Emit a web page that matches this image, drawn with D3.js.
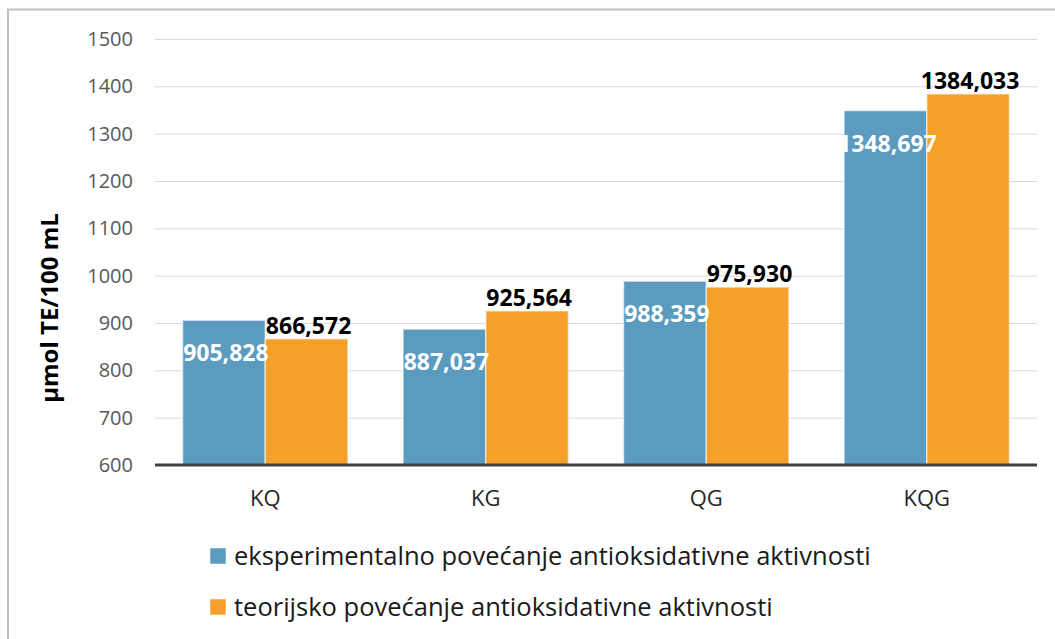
<!DOCTYPE html>
<html lang="en">
<head>
<meta charset="utf-8">
<title>Antioksidativna aktivnost</title>
<style>
  body { margin: 0; background: #fff; }
  svg { display: block; font-family: 'Open Sans', sans-serif; }
  .grid line { stroke: #d9d9d9; stroke-width: 1; }
  .tick-label { fill: #595959; font-size: 20px; }
  .cat-label { fill: #262626; font-size: 22px; }
  .val { font-weight: bold; font-size: 23px; }
</style>
</head>
<body>
<svg width="1055" height="639"></svg>
<script src="https://cdn.jsdelivr.net/npm/d3@7"></script>
<script>
// data
var categories = ["KQ", "KG", "QG", "KQG"];
var experimental = [905.828, 887.037, 988.359, 1348.697];
var theoretical = [866.572, 925.564, 975.930, 1384.033];
var yTicks = [600, 700, 800, 900, 1000, 1100, 1200, 1300, 1400, 1500];
var seriesNames = ["eksperimentalno povećanje antioksidativne aktivnosti",
                   "teorijsko povećanje antioksidativne aktivnosti"];
var colors = ["#5b9bc0", "#f5a02a"];

var svg = d3.select("svg");

// outer frame (runs off the right and bottom of the picture)
svg.append("rect")
    .attr("x", 8).attr("y", 9.5)
    .attr("width", 1200).attr("height", 800)
    .attr("fill", "none")
    .attr("stroke", "#bfbfbf")
    .attr("stroke-width", 2);

var left = 155, right = 1037;
var y = d3.scaleLinear().domain([600, 1500]).range([465, 39]);
var x0 = d3.scaleBand().domain(categories).range([left, right])
    .paddingInner(0.25).paddingOuter(0.125);
var x1 = d3.scaleBand().domain([0, 1]).range([0, x0.bandwidth()]);

var fmt = d3.formatLocale({decimal: ",", thousands: "", grouping: [3], currency: ["", ""]}).format(".3f");

// gridlines
svg.append("g").attr("class", "grid")
  .selectAll("line")
  .data(yTicks.filter(function(d) { return d > 600; }))
  .enter().append("line")
    .attr("x1", left).attr("x2", right)
    .attr("y1", function(d) { return y(d) + 0.5; })
    .attr("y2", function(d) { return y(d) + 0.5; });

svg.append("g")
  .selectAll("text")
  .data(yTicks)
  .enter().append("text")
    .attr("class", "tick-label")
    .attr("x", 133)
    .attr("y", function(d) { return y(d); })
    .attr("dy", "0.35em")
    .attr("text-anchor", "end")
    .text(function(d) { return d; });

var rows = categories.map(function(c, i) {
  return {cat: c, vals: [experimental[i], theoretical[i]]};
});

var groups = svg.append("g").selectAll("g")
  .data(rows)
  .enter().append("g")
    .attr("transform", function(d) { return "translate(" + x0(d.cat) + ",0)"; });

groups.selectAll("rect")
  .data(function(d) { return d.vals.map(function(v, k) { return {k: k, v: v}; }); })
  .enter().append("rect")
    .attr("x", function(d) { return x1(d.k); })
    .attr("y", function(d) { return y(d.v); })
    .attr("width", x1.bandwidth())
    .attr("height", function(d) { return y(600) - y(d.v); })
    .attr("fill", function(d) { return colors[d.k]; })
    .attr("stroke", "rgba(255,255,255,0.55)")
    .attr("stroke-width", 1.5);

// axis line
svg.append("line")
    .attr("x1", left).attr("x2", right)
    .attr("y1", y(600)).attr("y2", y(600))
    .attr("stroke", "#404040")
    .attr("stroke-width", 3);

// value labels
groups.selectAll("text.val")
  .data(function(d) { return d.vals.map(function(v, k) { return {k: k, v: v}; }); })
  .enter().append("text")
    .attr("class", "val")
    .attr("x", function(d) { return x1(d.k) + x1.bandwidth() / 2 + 2; })
    .attr("y", function(d) { return d.k === 0 ? y(d.v) + 41 : y(d.v) - 5; })
    .attr("text-anchor", "middle")
    .attr("fill", function(d) { return d.k === 0 ? "#ffffff" : "#000000"; })
    .text(function(d) { return fmt(d.v); });

// category labels
svg.append("g").selectAll("text")
  .data(categories)
  .enter().append("text")
    .attr("class", "cat-label")
    .attr("x", function(d) { return x0(d) + x0.bandwidth() / 2; })
    .attr("y", 506)
    .attr("text-anchor", "middle")
    .text(function(d) { return d; });

// y axis title
svg.append("text")
    .attr("transform", "translate(58,308) rotate(-90)")
    .attr("text-anchor", "middle")
    .attr("font-weight", "bold")
    .attr("font-size", "24px")
    .attr("fill", "#000")
    .text("µmol TE/100 mL");

// legend
var legend = svg.append("g").selectAll("g")
  .data(seriesNames)
  .enter().append("g")
    .attr("transform", function(d, i) { return "translate(210," + (556 + i * 51) + ")"; });

legend.append("rect")
    .attr("x", 0).attr("y", -8)
    .attr("width", 16).attr("height", 16)
    .attr("fill", function(d, i) { return colors[i]; })
    .attr("stroke", "rgba(255,255,255,0.5)");

legend.append("text")
    .attr("x", 24)
    .attr("y", 0)
    .attr("dy", "0.35em")
    .attr("font-size", "25.5px")
    .attr("fill", "#1a1a1a")
    .text(function(d) { return d; });
</script>
</body>
</html>
